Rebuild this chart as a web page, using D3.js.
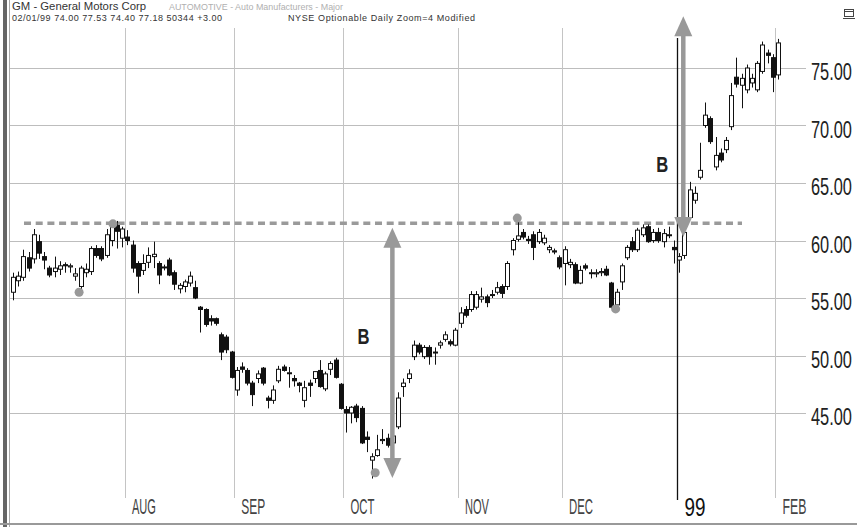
<!DOCTYPE html>
<html><head><meta charset="utf-8">
<script src="https://cdn.jsdelivr.net/npm/d3@7"></script>
<style>html,body{margin:0;padding:0;background:#fff;}svg{display:block;}</style>
</head><body>
<svg id="c" width="857" height="527"></svg>
<script>
// ---- data (GM daily, Jul 1998 - Feb 1 1999) ----
const opens = [55.5,56.5,56.8,58.5,58.4,59.9,58.6,57.6,57.3,57.5,57.9,57.7,56.9,56.0,57.2,57.3,59.3,59.3,58.7,60.0,61.3,60.2,
60.3,59.6,58.0,57.4,58.1,58.6,58.0,57.7,58.3,57.2,55.8,56.0,56.3,55.9,54.2,54.0,53.2,53.2,51.8,51.6,50.3,
47.0,49.0,48.7,47.6,48.0,48.9,46.3,46.1,47.8,49.0,48.5,48.0,47.6,46.1,47.6,48.0,48.7,47.1,48.8,49.6,47.5,
45.3,45.0,45.6,45.4,42.9,40.9,41.3,42.6,42.8,42.4,43.8,47.3,48.0,49.9,50.9,49.9,50.7,50.3,50.9,51.4,51.2,50.9,
52.8,54.0,54.0,54.2,54.9,55.1,55.3,55.5,56.0,56.0,59.2,60.1,60.7,60.1,60.5,59.9,59.8,59.2,59.1,58.5,
58.0,57.9,57.9,56.3,57.8,57.2,57.1,57.2,57.5,56.3,54.4,56.4,58.5,59.9,59.2,60.5,61.2,60.0,60.7,59.9,60.5,59.4,
58.3,58.7,62.0,63.5,65.5,70.0,70.6,66.4,67.6,67.9,69.9,74.2,73.5,73.1,73.7,73.1,74.7,76.3,75.9,
74.4];
const highs = [57.2,57.3,59.2,59.0,61.0,60.5,59.0,57.8,58.6,58.2,58.1,58.0,57.6,57.8,58.0,59.5,59.6,59.5,61.0,61.6,61.7,61.2,
60.9,60.0,58.2,58.8,59.4,59.9,58.2,57.9,58.5,57.4,56.3,56.6,57.3,56.5,54.3,54.1,53.5,53.3,52.0,51.8,50.4,
49.0,49.4,48.9,47.8,48.7,49.0,46.5,47.4,49.1,49.2,49.0,48.3,47.7,47.8,47.9,48.6,49.6,48.6,49.5,49.8,47.6,
45.6,45.6,45.8,45.6,43.4,41.5,43.1,43.6,43.2,43.5,46.8,48.0,48.8,51.3,51.1,50.9,50.9,50.7,51.3,52.1,51.4,52.4,
54.2,54.3,55.6,55.6,55.9,55.3,55.7,56.4,56.2,58.2,60.2,61.9,61.0,60.4,60.8,61.0,60.5,59.6,59.3,58.7,
59.5,58.4,58.1,57.8,58.0,57.5,57.5,57.6,57.8,56.4,55.8,58.0,59.6,60.3,61.1,61.4,61.4,61.0,61.1,61.0,61.2,60.0,
58.9,61.2,65.1,64.7,68.5,72.0,70.8,69.0,68.0,69.0,73.7,75.9,74.5,75.3,74.5,75.6,77.3,76.6,76.2,
77.53];
const lows = [54.8,56.0,56.5,57.3,58.0,58.4,57.5,56.8,56.8,57.0,57.2,57.2,56.5,55.6,56.8,57.0,58.5,58.2,58.5,59.5,59.3,59.4,
59.6,57.2,55.4,57.0,57.6,57.6,56.2,57.4,56.9,55.7,55.4,55.5,56.0,54.9,52.0,52.5,52.6,52.6,49.6,50.2,48.0,
46.5,48.5,47.4,45.6,47.6,47.4,45.4,45.8,47.6,48.6,47.2,47.3,46.8,45.5,46.4,47.6,47.2,46.9,48.3,48.0,45.3,
43.3,44.1,44.2,42.3,41.6,39.3,41.2,42.3,42.0,42.1,43.6,46.4,47.6,49.6,50.1,49.7,49.2,49.2,50.6,51.2,50.8,50.8,
52.4,53.3,53.8,54.0,54.6,54.2,55.0,55.3,55.0,55.7,58.7,59.9,60.1,59.7,58.3,59.7,59.6,58.9,58.8,57.5,
56.1,57.6,56.2,56.2,57.4,56.7,56.8,56.9,56.9,54.1,54.0,55.7,58.3,59.0,59.0,60.3,59.8,59.8,59.8,59.4,60.2,58.0,
57.2,58.4,61.8,63.2,65.3,69.8,68.4,66.1,66.8,67.6,69.6,73.3,71.5,72.8,73.3,72.9,74.5,75.4,72.9,
74.0];
const closes = [56.8,56.9,58.6,57.6,60.5,58.9,58.3,57.0,57.6,57.8,57.8,57.8,57.1,57.6,57.5,59.3,58.7,58.4,60.5,61.3,60.8,61.0,
60.0,57.6,56.9,58.0,58.7,58.8,57.0,57.7,57.0,56.2,56.1,56.4,56.9,55.0,54.0,52.7,53.0,52.8,50.3,50.5,48.1,
48.7,48.8,47.6,46.6,48.4,47.6,46.1,47.0,48.8,48.7,48.5,47.8,47.4,47.2,47.4,48.6,47.3,48.4,49.3,48.1,45.4,
45.0,45.5,44.6,42.4,42.7,41.2,41.8,42.7,42.2,43.0,46.3,47.6,48.4,50.9,50.3,50.7,49.9,50.3,51.1,51.8,51.0,52.2,
53.7,53.5,55.3,55.3,55.1,54.6,55.3,55.9,55.4,58.0,60.0,60.4,60.3,60.0,59.4,60.7,60.2,59.4,59.0,57.7,
59.2,58.1,56.3,57.4,57.6,57.2,57.2,57.3,57.0,54.2,55.5,57.8,59.4,59.2,60.9,61.1,59.9,60.7,60.0,60.6,60.5,59.2,
58.6,60.7,64.4,64.1,66.1,70.9,68.6,67.4,67.0,68.7,72.6,73.6,74.1,75.0,74.1,75.4,77.0,76.1,74.2,
77.18];

const monthLabels = ["AUG","SEP","OCT","NOV","DEC","99","FEB"];
const monthStart  = [22, 43, 64, 86, 106, 128, 147];
const priceTicks  = [45, 50, 55, 60, 65, 70, 75];

// swing points (bar index, price) and measuring arrows
const markerIdx   = [12.7, 19.2, 69.6, 96.9, 115.8];
const markerPrice = [55.5, 61.45, 39.8, 61.95, 54.05];
const resistance  = 61.5;
const arrowIdx    = [72.9, 128.8];
const arrowTop    = [61.1, 79.5];
const arrowBottom = [39.35, 60.3];
const bLabelIdx   = [66.2, 123.6];
const bLabelPrice = [51.0, 66.0];

// ---- drawing ----
const svg = d3.select("#c");
const W = 857, H = 527;
const x = d3.scaleLinear().domain([0, 147]).range([13, 778]);
const y = d3.scaleLinear().domain([45, 75]).range([413, 68]);
const bars = opens.map((o, i) => ({i, o, h: highs[i], l: lows[i], c: closes[i]}));
const narrow = "'Liberation Sans Narrow','Liberation Sans',Arial,sans-serif";

// squeeze a text horizontally to a target width with a transform
function squeeze(sel, tx, ty, width) {
  sel.each(function(d, k) {
    const t = d3.select(this);
    const len = this.getComputedTextLength();
    const X = typeof tx === "function" ? tx(d, k) : tx;
    const Y = typeof ty === "function" ? ty(d, k) : ty;
    const w = typeof width === "function" ? width(d, k) : width;
    t.attr("x", 0).attr("y", 0)
     .attr("transform", `translate(${X},${Y}) scale(${w / len},1)`);
  });
}

svg.append("rect").attr("width", W).attr("height", H).attr("fill", "#fff");

// horizontal grid
svg.append("g").selectAll("line").data(priceTicks).join("line")
  .attr("x1", 10).attr("x2", 806)
  .attr("y1", d => Math.round(y(d)) + 0.5).attr("y2", d => Math.round(y(d)) + 0.5)
  .attr("stroke", "#bdbdbd").attr("stroke-width", 1);

// vertical month lines
const months = monthLabels.map((m, k) => ({m, idx: monthStart[k]}));
svg.append("g").selectAll("line").data(months.filter(d => d.m !== "99")).join("line")
  .attr("x1", d => Math.round(x(d.idx - 0.5)) + 0.5).attr("x2", d => Math.round(x(d.idx - 0.5)) + 0.5)
  .attr("y1", 28).attr("y2", 498)
  .attr("stroke", "#c4c4c4").attr("stroke-width", 1);

// y labels
const yl = svg.append("g").selectAll("text").data(priceTicks).join("text")
  .style("font-family", narrow).style("font-size", "23px").attr("fill", "#222")
  .text(d => d3.format(".2f")(d));
squeeze(yl, 811, d => y(d) + 12, 41);

// month labels
const ml = svg.append("g").selectAll("text").data(months).join("text")
  .style("font-family", narrow)
  .style("font-size", d => d.m === "99" ? "26px" : "22px")
  .attr("fill", d => d.m === "99" ? "#111" : "#444")
  .text(d => d.m);
squeeze(ml, d => x(d.idx - 0.5) + (d.m === "99" ? 8 : 7), d => d.m === "99" ? 516 : 514,
  d => d.m === "99" ? 21 : 24);

// resistance dashed line
svg.append("line")
  .attr("x1", 24).attr("x2", 742).attr("y1", y(resistance)).attr("y2", y(resistance))
  .attr("stroke", "#9a9a9a").attr("stroke-width", 3.5).attr("stroke-dasharray", "7,4.7");

// year separator line
const sepX = Math.round(x(monthStart[5] - 0.5)) + 0.5;
svg.append("line").attr("x1", sepX).attr("x2", sepX).attr("y1", 38).attr("y2", 500)
  .attr("stroke", "#111").attr("stroke-width", 1.3);

// candlesticks
const cg = svg.append("g");
cg.selectAll("line.w").data(bars).join("line").attr("class", "w")
  .attr("x1", d => Math.round(x(d.i)) + 0.5).attr("x2", d => Math.round(x(d.i)) + 0.5)
  .attr("y1", d => y(d.h)).attr("y2", d => y(d.l))
  .attr("stroke", "#111").attr("stroke-width", 1);
cg.selectAll("rect").data(bars).join("rect")
  .attr("x", d => Math.round(x(d.i)) - 1.5)
  .attr("width", 4)
  .attr("y", d => y(Math.max(d.o, d.c)))
  .attr("height", d => Math.max(1, Math.abs(y(d.o) - y(d.c))))
  .attr("fill", d => d.c >= d.o ? "#fff" : "#111")
  .attr("stroke", "#111").attr("stroke-width", 1);

// swing markers
svg.append("g").selectAll("circle").data(markerIdx).join("circle")
  .attr("cx", (d) => x(d)).attr("cy", (d, k) => y(markerPrice[k]))
  .attr("r", 4.5).attr("fill", "#999");

// measuring arrows
const ag = svg.append("g");
arrowIdx.forEach((ai, k) => {
  const ax = x(ai), yt = y(arrowTop[k]), yb = y(arrowBottom[k]);
  const hl = 20, hw = 9;
  ag.append("line").attr("x1", ax).attr("x2", ax).attr("y1", yt + hl - 2).attr("y2", yb - hl + 2)
    .attr("stroke", "#999").attr("stroke-width", 4.5);
  ag.append("path").attr("d", `M${ax},${yt} L${ax - hw},${yt + hl} L${ax + hw},${yt + hl} Z`).attr("fill", "#999");
  ag.append("path").attr("d", `M${ax},${yb} L${ax - hw},${yb - hl} L${ax + hw},${yb - hl} Z`).attr("fill", "#999");
});

// B labels
const bl = svg.append("g").selectAll("text").data(bLabelIdx).join("text")
  .style("font-family", narrow).style("font-weight", "bold").style("font-size", "22px").attr("fill", "#222")
  .text("B");
squeeze(bl, d => x(d), (d, k) => y(bLabelPrice[k]), 12);

// frame
svg.append("rect").attr("x", 3).attr("y", 0).attr("width", 4).attr("height", H).attr("fill", "#666");
svg.append("line").attr("x1", 9.5).attr("x2", 9.5).attr("y1", 0).attr("y2", H).attr("stroke", "#aaa");
svg.append("line").attr("x1", 0).attr("x2", W).attr("y1", 524).attr("y2", 524).attr("stroke", "#999").attr("stroke-width", 2);

// header
const hf = "'Liberation Sans',Arial,sans-serif";
const hdr = svg.append("g").style("font-family", hf);
hdr.append("text").attr("x", 12).attr("y", 10).style("font-size", "11px").attr("fill", "#333")
  .attr("textLength", 134).attr("lengthAdjust", "spacingAndGlyphs").text("GM - General Motors Corp");
hdr.append("text").attr("x", 169).attr("y", 10).style("font-size", "9px").attr("fill", "#b0b0b0")
  .attr("textLength", 174).attr("lengthAdjust", "spacingAndGlyphs").text("AUTOMOTIVE - Auto Manufacturers - Major");
hdr.append("text").attr("x", 12).attr("y", 21).style("font-size", "9px").attr("fill", "#333")
  .attr("textLength", 210).attr("lengthAdjust", "spacing").text("02/01/99  74.00 77.53 74.40 77.18 50344 +3.00");
hdr.append("text").attr("x", 288).attr("y", 21).style("font-size", "9px").attr("fill", "#333")
  .attr("textLength", 187).attr("lengthAdjust", "spacing").text("NYSE Optionable Daily Zoom=4 Modified");

// window icon
svg.append("rect").attr("x", 844.5).attr("y", 9.5).attr("width", 9).attr("height", 7).attr("fill", "none").attr("stroke", "#444");
svg.append("line").attr("x1", 844).attr("x2", 854).attr("y1", 11.5).attr("y2", 11.5).attr("stroke", "#444");
svg.append("line").attr("x1", 843).attr("x2", 855).attr("y1", 18.5).attr("y2", 18.5).attr("stroke", "#444");
</script>
</body></html>
